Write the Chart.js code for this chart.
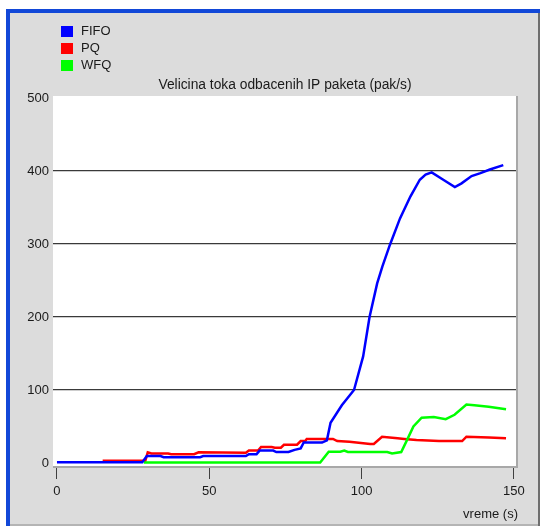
<!DOCTYPE html>
<html>
<head>
<meta charset="utf-8">
<title>Velicina toka odbacenih IP paketa</title>
<script src="https://cdn.jsdelivr.net/npm/chart.js@4.4.1/dist/chart.umd.min.js"></script>
<style>
    html, body { margin: 0; padding: 0; background: #ffffff; }
    #wrap { width: 540px; height: 526px; }
</style>
</head>
<body>
<div id="wrap"><canvas id="dropChart" width="540" height="526"></canvas></div>
<script>
// series labels and colours
const seriesNames = ["FIFO", "PQ", "WFQ"];
const seriesColors = ["#0000ff", "#ff0000", "#00ff00"];

// FIFO: time (s) and dropped packet rate (pak/s)
const fifoTime = [0, 28, 29.5, 34, 35, 47, 48, 62, 63, 65.5, 66.5, 71, 72, 76, 78, 80, 81, 87, 88.6, 89.8, 93.5, 97.5, 100.5, 102.6, 105.1, 106.8, 109.3, 112.6, 116, 119.1, 121, 123, 126.8, 130.6, 132.8, 136.1, 139, 142.1, 146.5];
const fifoRate = [1, 1, 9.5, 9.5, 8, 8, 9.5, 9.5, 12, 12, 17, 17, 15, 15, 18, 20, 28, 28, 31, 55, 79, 100, 146, 200, 246, 269, 299, 335, 365, 388, 395, 398, 388, 378, 383, 393, 397, 402, 408];

// PQ
const pqTime = [15, 29, 29.8, 31, 36.5, 37.5, 45, 46.5, 62, 63, 66, 67, 70.5, 71.5, 73.5, 74.5, 78.8, 80, 81.5, 82, 90.6, 92, 96, 102.8, 104, 106.7, 111.8, 114, 118, 125.4, 133, 134.4, 141.8, 147.4];
const pqRate = [3, 3, 14.6, 13, 13, 12, 12, 14.6, 14, 17, 17, 22, 22, 21, 21, 25, 25, 30, 30, 33, 33, 30, 29, 26, 26, 36, 34, 33, 31.5, 30, 30, 36, 35, 34];

// WFQ
const wfqTime = [28.5, 86.4, 89.2, 93, 94.3, 95.5, 108.4, 110, 113, 115.2, 117, 119.7, 123.7, 127.6, 130.5, 134.4, 137, 141.7, 147.4];
const wfqRate = [0.5, 0.5, 15.5, 15.5, 17, 15, 15, 13, 15, 34, 50, 62, 63, 60, 66, 80, 79, 77, 73.5];

// axis ticks
const xTicks = [0, 50, 100, 150];
const yTicks = [0, 100, 200, 300, 400, 500];
const yGridLines = [100, 200, 300, 400];

const chartTitle = "Velicina toka odbacenih IP paketa (pak/s)";
const xAxisTitle = "vreme (s)";

const toPoints = (xs, ys) => xs.map((x, i) => ({ x: x, y: ys[i] }));

const FONT = "'Liberation Sans', Arial, sans-serif";

// window frame, plot background, legend and titles
const framePlugin = {
    id: "frame",
    beforeDraw(chart) {
        const c = chart.ctx;
        const a = chart.chartArea;
        c.save();
        c.fillStyle = "#ffffff";
        c.fillRect(0, 0, 540, 526);
        c.fillStyle = "#dcdcdc";
        c.fillRect(10, 13, 530, 513);
        // blue window border
        c.fillStyle = "#1248d8";
        c.fillRect(6, 9, 534, 4);
        c.fillRect(6, 9, 4, 517);
        // right/bottom edge
        c.fillStyle = "#6e6e6e";
        c.fillRect(538, 13, 2, 513);
        c.fillStyle = "#b4b4b4";
        c.fillRect(10, 524, 528, 2);
        // plot area
        c.fillStyle = "#ffffff";
        c.fillRect(a.left, a.top, a.right - a.left, a.bottom - a.top);
        c.restore();
    },
    beforeDatasetsDraw(chart) {
        const c = chart.ctx;
        const a = chart.chartArea;
        c.save();
        c.fillStyle = "#a8a8a8";
        c.fillRect(a.right - 1, a.top, 2, a.bottom - a.top + 1);
        c.fillRect(a.left, a.bottom - 1, a.right - a.left + 1, 2);
        c.restore();
    },
    afterDraw(chart) {
        const c = chart.ctx;
        c.save();
        c.font = "13px " + FONT;
        c.textBaseline = "middle";
        chart.data.datasets.forEach((ds, i) => {
            const y = 31 + i * 17;
            c.fillStyle = ds.borderColor;
            c.fillRect(61, y - 5, 12, 11);
            c.fillStyle = "#1a1a1a";
            c.textAlign = "left";
            c.fillText(ds.label, 81, y);
        });
        c.font = "13.8px " + FONT;
        c.textAlign = "center";
        c.fillText(chartTitle, 285, 85);
        c.font = "13px " + FONT;
        c.textAlign = "right";
        c.fillText(xAxisTitle, 518, 514);
        c.restore();
    },
};

const ctx = document.getElementById("dropChart").getContext("2d");

new Chart(ctx, {
    type: "line",
    data: {
        datasets: [
            { label: seriesNames[0], data: toPoints(fifoTime, fifoRate), borderColor: seriesColors[0], order: 0 },
            { label: seriesNames[1], data: toPoints(pqTime, pqRate), borderColor: seriesColors[1], order: 2 },
            { label: seriesNames[2], data: toPoints(wfqTime, wfqRate), borderColor: seriesColors[2], order: 1 },
        ],
    },
    options: {
        responsive: false,
        animation: false,
        devicePixelRatio: 1,
        layout: { padding: { left: 10, top: 96, right: 23, bottom: 0 } },
        elements: {
            line: { borderWidth: 2.5, tension: 0, fill: false },
            point: { radius: 0 },
        },
        plugins: {
            legend: { display: false },
            title: { display: false },
            tooltip: { enabled: false },
        },
        scales: {
            x: {
                type: "linear",
                min: -1.3,
                max: 151,
                offset: false,
                afterBuildTicks: (scale) => {
                    scale.ticks = xTicks.map((v) => ({ value: v }));
                },
                afterFit: (scale) => {
                    scale.height = 59;
                },
                grid: {
                    drawOnChartArea: false,
                    drawTicks: true,
                    tickLength: 12,
                    tickColor: "#404040",
                    tickWidth: 1,
                },
                border: { display: false },
                ticks: {
                    color: "#1a1a1a",
                    font: { family: FONT, size: 13 },
                    padding: 5,
                    maxRotation: 0,
                },
            },
            y: {
                min: -5.5,
                max: 502.7,
                afterBuildTicks: (scale) => {
                    scale.ticks = yTicks.map((v) => ({ value: v }));
                },
                afterFit: (scale) => {
                    scale.width = 43;
                },
                grid: {
                    drawTicks: false,
                    color: (c) => (yGridLines.includes(c.tick && c.tick.value) ? "#3a3a3a" : "rgba(0,0,0,0)"),
                    lineWidth: 1.3,
                },
                border: { display: false },
                ticks: {
                    color: "#1a1a1a",
                    font: { family: FONT, size: 13 },
                    padding: 4,
                },
            },
        },
    },
    plugins: [framePlugin],
});
</script>
</body>
</html>
